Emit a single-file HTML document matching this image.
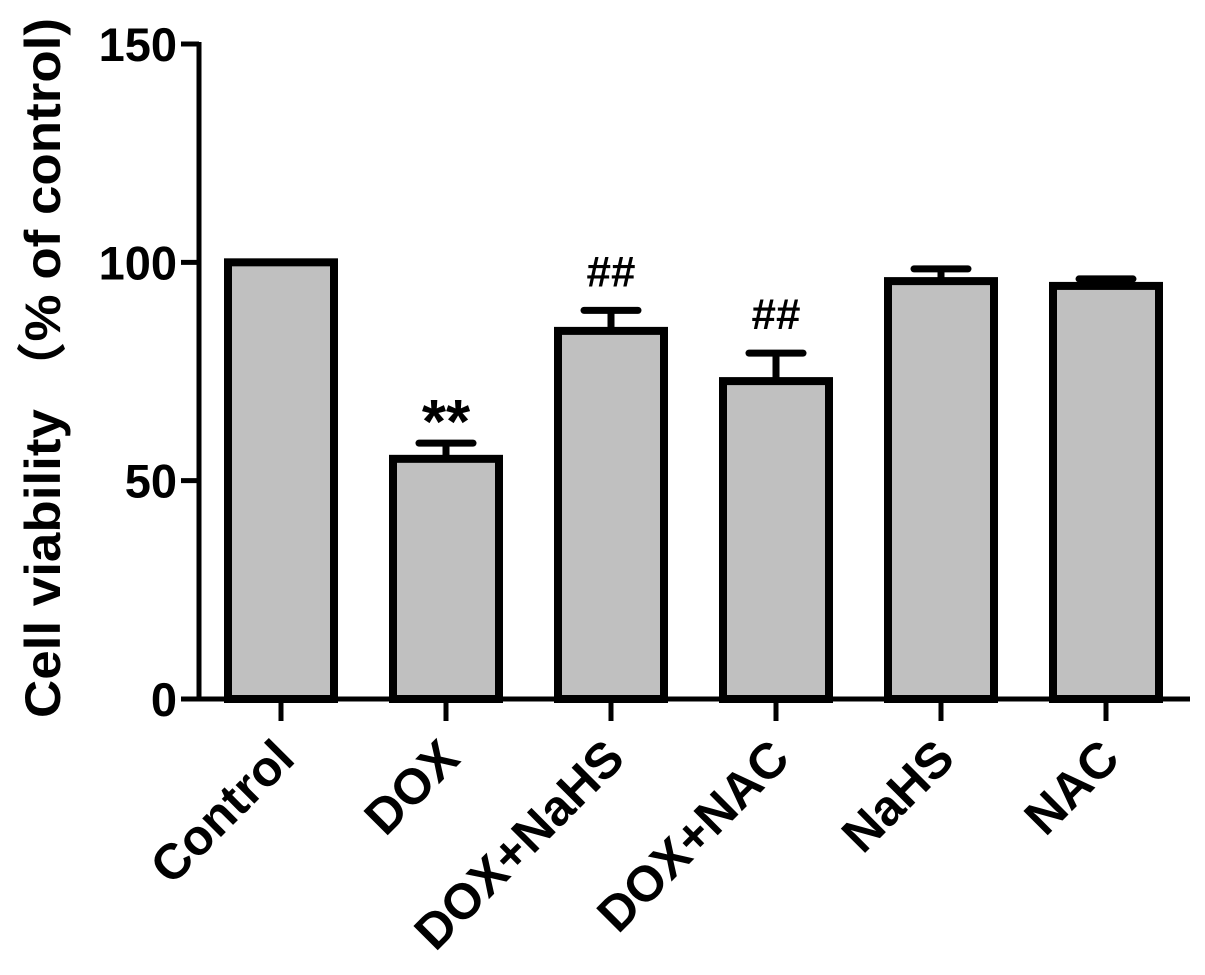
<!DOCTYPE html>
<html><head><meta charset="utf-8"><style>
html,body{margin:0;padding:0;background:#fff;}
svg text{font-family:"Liberation Sans","Noto Sans CJK SC",sans-serif;font-weight:bold;fill:#000;}
</style></head><body>
<svg id="chart" width="1205" height="970" viewBox="0 0 1205 970" xmlns="http://www.w3.org/2000/svg">
<g id="plot"></g>
<text transform="translate(60,368) rotate(-90)" text-anchor="middle" font-size="50" textLength="700" lengthAdjust="spacingAndGlyphs">Cell viability （% of control)</text>
</svg>
<script>
const categories = ["Control","DOX","DOX+NaHS","DOX+NAC","NaHS","NAC"];
const values = [100,55,84.3,72.8,95.7,94.6];
const errors = [0,3.6,4.7,6.4,2.8,1.6];
const annotations = ["","**","##","##","",""];
const yTicks = [0,50,100,150];

const svg = document.getElementById('plot');
const NS = "http://www.w3.org/2000/svg";
const x0 = 199, y0 = 699, yTop = 44, yMax = 150;
const step = 165, firstCenter = 281, barW = 106;
const y = v => y0 - (v / yMax) * (y0 - yTop);
const xc = i => firstCenter + i * step;
function mk(tag, attrs){const e=document.createElementNS(NS,tag);for(const k in attrs)e.setAttribute(k,attrs[k]);svg.appendChild(e);return e;}

categories.forEach((c,i)=>{
  const cx = xc(i);
  const top = y(values[i]);
  if(errors[i]>0){
    const et = y(values[i]+errors[i]);
    const l = mk('line',{x1:cx,x2:cx,y1:et,y2:top,stroke:'#000','stroke-width':7});
    
    
    const cap = mk('line',{x1:cx-27,x2:cx+27,y1:et,y2:et,stroke:'#000','stroke-width':7,'stroke-linecap':'round'});
    
    
  }
  const r = mk('rect',{x:cx-barW/2,y:top,width:barW,height:y0-top,fill:'#c0c0c0',stroke:'#000','stroke-width':8});
  
  
  if(annotations[i]){
    const isStar = annotations[i]==='**';
    const t = mk('text',{x:cx,y:y(values[i]+errors[i])-(isStar?0:24),'text-anchor':'middle','font-size':isStar?62:44});
    t.textContent = annotations[i];
    
    
  }
  const tk = mk('line',{x1:cx,x2:cx,y1:y0,y2:y0+22,stroke:'#000','stroke-width':5});
  
  
  const lb = mk('text',{transform:`translate(${cx+16},${y0+62}) rotate(-45)`,'text-anchor':'end','font-size':50});
  lb.textContent = c;
  
  
});

const xa = mk('line',{x1:x0-2,x2:1190,y1:y0,y2:y0,stroke:'#000','stroke-width':5});


const ya = mk('line',{x1:x0,x2:x0,y1:yTop-2,y2:y0+2,stroke:'#000','stroke-width':5});


yTicks.forEach(v=>{
  const t = mk('line',{x1:x0-18,x2:x0,y1:y(v),y2:y(v),stroke:'#000','stroke-width':5});
  
  
  const l = mk('text',{x:x0-22,y:y(v)+17,'text-anchor':'end','font-size':47});
  l.textContent = v;
  
  
});
</script>
</body></html>
